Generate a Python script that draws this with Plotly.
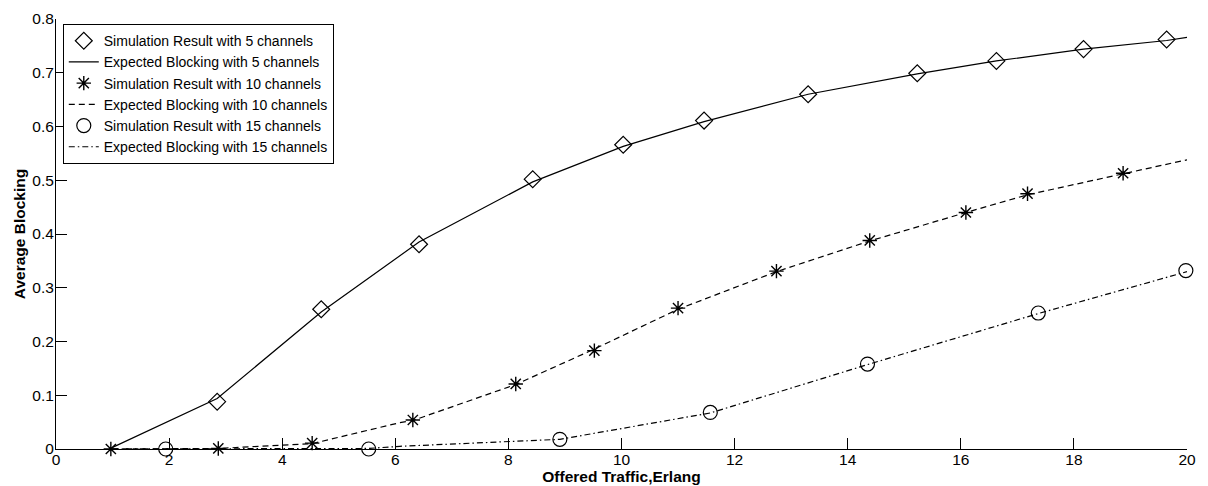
import plotly.graph_objects as go

# ---- data ----
sim5_x = [2.85, 4.69, 6.42, 8.43, 10.03, 11.46, 13.30, 15.23, 16.63, 18.17, 19.64]
sim5_y = [0.088, 0.260, 0.381, 0.502, 0.566, 0.611, 0.660, 0.699, 0.722, 0.744, 0.762]
exp5_x = [1, 2.85, 4.69, 6.42, 8.43, 10.03, 11.46, 13.30, 15.23, 16.63, 18.17, 19.64, 20]
exp5_y = [0.003, 0.094, 0.255, 0.385, 0.497, 0.563, 0.609, 0.660, 0.698, 0.722, 0.744, 0.760, 0.766]

sim10_x = [0.97, 2.87, 4.53, 6.31, 8.13, 9.52, 11.00, 12.74, 14.39, 16.09, 17.18, 18.87]
sim10_y = [0.000, 0.001, 0.011, 0.054, 0.121, 0.183, 0.262, 0.331, 0.388, 0.440, 0.475, 0.513]
exp10_x = [1, 2.87, 4.53, 6.08, 6.31, 8.13, 9.52, 11.00, 12.74, 14.39, 16.09, 17.18, 18.87, 20]
exp10_y = [0.000, 0.001, 0.010, 0.049, 0.053, 0.120, 0.186, 0.260, 0.330, 0.387, 0.440, 0.473, 0.512, 0.538]

sim15_x = [1.94, 5.53, 8.91, 11.57, 14.35, 17.37, 19.98]
sim15_y = [0.000, 0.000, 0.018, 0.068, 0.158, 0.253, 0.332]
exp15_x = [1, 1.94, 5.53, 6.08, 8.91, 11.57, 14.35, 17.37, 20]
exp15_y = [0.000, 0.000, 0.001, 0.005, 0.018, 0.067, 0.157, 0.252, 0.330]

names = [
    "Simulation Result with 5 channels",
    "Expected Blocking with 5 channels",
    "Simulation Result with 10 channels",
    "Expected Blocking with 10 channels",
    "Simulation Result with 15 channels",
    "Expected Blocking with 15 channels",
]

x_ticks = list(range(0, 21, 2))
y_ticks = [0, 0.1, 0.2, 0.3, 0.4, 0.5, 0.6, 0.7, 0.8]
y_tick_text = ["0", "0.1", "0.2", "0.3", "0.4", "0.5", "0.6", "0.7", "0.8"]

BLACK = "#000000"
FONT = "Liberation Sans, Arial, sans-serif"

fig = go.Figure()

def marker_trace(x, y, name, symbol, size, lw=1.2):
    return go.Scatter(
        x=x, y=y, name=name, mode="markers", cliponaxis=False,
        marker=dict(symbol=symbol, size=size, color=BLACK,
                    line=dict(color=BLACK, width=lw)),
    )

def line_trace(x, y, name, dash):
    return go.Scatter(
        x=x, y=y, name=name, mode="lines", cliponaxis=False,
        line=dict(color=BLACK, width=1.2, dash=dash),
    )

fig.add_trace(marker_trace(sim5_x, sim5_y, names[0], "diamond-open", 13))
fig.add_trace(line_trace(exp5_x, exp5_y, names[1], "solid"))
fig.add_trace(marker_trace(sim10_x, sim10_y, names[2], "asterisk-open", 12, 1.4))
fig.add_trace(line_trace(exp10_x, exp10_y, names[3], "6px,4px"))
fig.add_trace(marker_trace(sim15_x, sim15_y, names[4], "circle-open", 14))
fig.add_trace(line_trace(exp15_x, exp15_y, names[5], "6px,3px,1.5px,3px"))

fig.update_layout(
    width=1208, height=486,
    margin=dict(l=56, r=21, t=19, b=37, autoexpand=False),
    paper_bgcolor="white", plot_bgcolor="white",
    font=dict(family=FONT, size=15, color=BLACK),
    showlegend=True,
    legend=dict(
        x=0.006, y=0.988, xanchor="left", yanchor="top",
        bgcolor="white", bordercolor=BLACK, borderwidth=1,
        font=dict(family=FONT, size=14, color=BLACK),
        traceorder="normal", tracegroupgap=0,
    ),
    xaxis=dict(
        range=[0, 20], tickmode="array", tickvals=x_ticks,
        ticks="inside", ticklen=11, tickcolor=BLACK, tickwidth=1,
        showline=True, linecolor=BLACK, linewidth=1, mirror=False,
        showgrid=False, zeroline=False, automargin=False,
        tickfont=dict(size=15.5), ticklabelstandoff=-4,
        title=dict(text="<b>Offered Traffic,Erlang</b>", font=dict(size=15.5), standoff=2),
    ),
    yaxis=dict(
        range=[0, 0.8], tickmode="array", tickvals=y_ticks, ticktext=y_tick_text,
        ticks="inside", ticklen=11, tickcolor=BLACK, tickwidth=1,
        showline=True, linecolor=BLACK, linewidth=1, mirror=False,
        showgrid=False, zeroline=False, automargin=False,
        tickfont=dict(size=15.5), ticklabelstandoff=-2,
        title=dict(text="<b>Average Blocking</b>", font=dict(size=15.5), standoff=2),
    ),
)

fig.write_html("out.html")
